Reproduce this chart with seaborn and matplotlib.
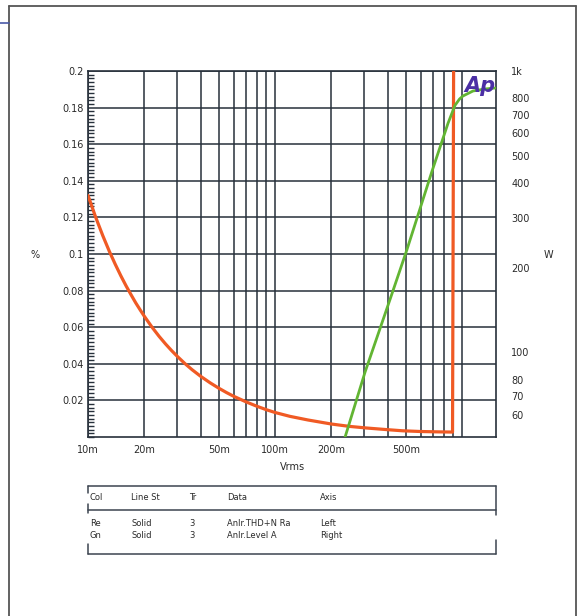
import numpy as np
import pandas as pd
import matplotlib
matplotlib.use("Agg")
import matplotlib.pyplot as plt
import seaborn as sns
from matplotlib.lines import Line2D
from matplotlib.ticker import FixedLocator, FixedFormatter, MultipleLocator, NullFormatter

# ---------------- data ----------------
thd_vrms = [0.01, 0.011, 0.012, 0.013, 0.014, 0.015, 0.016, 0.017, 0.018, 0.019, 0.02,
            0.022, 0.024, 0.026, 0.028, 0.03, 0.033, 0.036, 0.04, 0.045, 0.05,
            0.055, 0.06, 0.07, 0.08, 0.09, 0.1, 0.12, 0.15, 0.2, 0.25, 0.31, 0.4, 0.48,
            0.6, 0.75, 0.89, 0.908]
thd_pct = [0.132, 0.120, 0.110, 0.1015, 0.0943, 0.088, 0.0825, 0.0777, 0.0733, 0.0695, 0.066,
           0.060, 0.055, 0.0508, 0.0472, 0.0441, 0.0401, 0.0368, 0.0332, 0.0296, 0.0267,
           0.0243, 0.0223, 0.0192, 0.0168, 0.0149, 0.0134, 0.0113, 0.0093, 0.0071, 0.0058, 0.0049, 0.0040, 0.0034,
           0.0030, 0.0028, 0.0027, 0.30]

lvl_vrms = [0.236, 0.303, 0.412, 0.508, 0.691, 0.842, 0.9175, 0.97, 1.012, 1.145, 1.327, 1.501]
lvl_watt = [49.5, 85.0, 154, 232, 440, 652, 755, 795, 815, 849, 863, 870]

x_ticks = [0.01, 0.02, 0.05, 0.1, 0.2, 0.5]
x_labels = ["10m", "20m", "50m", "100m", "200m", "500m"]
left_ticks = [0.02, 0.04, 0.06, 0.08, 0.1, 0.12, 0.14, 0.16, 0.18, 0.2]
left_labels = ["0.02", "0.04", "0.06", "0.08", "0.1", "0.12", "0.14", "0.16", "0.18", "0.2"]
right_ticks = [60, 70, 80, 100, 200, 300, 400, 500, 600, 700, 800, 1000]
right_labels = ["60", "70", "80", "100", "200", "300", "400", "500", "600", "700", "800", "1k"]

table_header = ["Col", "Line St", "Tr", "Data", "Axis"]
table_rows = [["Re", "Solid", "3", "Anlr.THD+N Ra", "Left"],
              ["Gn", "Solid", "3", "Anlr.Level A", "Right"]]

# ---------------- style ----------------
sns.set_style("white")
plt.rcParams["font.family"] = ["DejaVu Sans"]

W, H = 577, 616
fig = plt.figure(figsize=(W / 100, H / 100), dpi=100)
fig.patch.set_facecolor("white")

def fx(px):
    return px / W

def fy(py):
    return 1 - py / H

L, R, T, B = 88, 496, 71, 437
ax = fig.add_axes([fx(L), fy(B), fx(R) - fx(L), fy(T) - fy(B)])
ax.set_facecolor("white")

grid_c = "#27303b"
txt_c = "#2a2a2a"
red_c = "#f05a24"
green_c = "#62b533"

df_thd = pd.DataFrame({"Vrms": thd_vrms, "THD": thd_pct})
df_lvl = pd.DataFrame({"Vrms": lvl_vrms, "W": lvl_watt})

ax.set_xscale("log")
ax.set_xlim(0.01, 1.52)
ax.set_ylim(0, 0.2)

# grid: every 1..9 multiple on x, every 0.02 on y
grid_x = [m * d for d in (0.01, 0.1, 1.0) for m in range(1, 10) if 0.01 <= m * d <= 1.52]
lbls = []
for g in grid_x:
    lab = ""
    for t, s in zip(x_ticks, x_labels):
        if abs(g - t) < 1e-9:
            lab = s
    lbls.append(lab)
ax.xaxis.set_major_locator(FixedLocator(grid_x))
ax.xaxis.set_major_formatter(FixedFormatter(lbls))
ax.xaxis.set_minor_formatter(NullFormatter())
ax.xaxis.set_minor_locator(FixedLocator([]))

ax.yaxis.set_major_locator(FixedLocator(left_ticks))
ax.yaxis.set_major_formatter(FixedFormatter(left_labels))
ax.yaxis.set_minor_locator(MultipleLocator(0.002))

ax.grid(True, which="major", color=grid_c, lw=1.1)
ax.tick_params(axis="x", which="major", length=0, pad=6, labelsize=7, labelcolor=txt_c)
ax.tick_params(axis="y", which="major", length=0, pad=3, labelsize=7, labelcolor=txt_c)
ax.tick_params(axis="y", which="minor", direction="in", length=4, width=1.0, color=grid_c, left=True)
for s in ax.spines.values():
    s.set_color(grid_c)
    s.set_linewidth(1.2)

sns.lineplot(data=df_thd, x="Vrms", y="THD", ax=ax, color=red_c, lw=2.3,
             estimator=None, sort=False, legend=False, zorder=3)
ax.set_xlabel("")
ax.set_ylabel("")

ax2 = ax.twinx()
ax2.set_yscale("log")
ax2.set_ylim(50, 1000)
sns.lineplot(data=df_lvl, x="Vrms", y="W", ax=ax2, color=green_c, lw=2.0,
             estimator=None, sort=False, legend=False, zorder=4)
ax2.set_xlim(0.01, 1.52)
ax2.set_ylabel("")
ax2.set_xlabel("")
ax2.yaxis.set_major_locator(FixedLocator(right_ticks))
ax2.yaxis.set_major_formatter(FixedFormatter(right_labels))
ax2.yaxis.set_minor_locator(FixedLocator([]))
ax2.yaxis.set_minor_formatter(NullFormatter())
ax2.tick_params(axis="y", which="major", length=0, pad=11, labelsize=7, labelcolor=txt_c)
for s in ax2.spines.values():
    s.set_visible(False)
ax2.grid(False)

# axis titles
fig.text(fx(35), fy(255), "%", fontsize=7, color=txt_c, ha="center", va="center")
fig.text(fx(548), fy(255), "W", fontsize=7, color=txt_c, ha="center", va="center")
fig.text(fx(292), fy(467), "Vrms", fontsize=7, color=txt_c, ha="center", va="center")

# Ap logo
fig.text(fx(480), fy(86), "Ap", fontsize=15, fontweight="bold", fontstyle="italic",
         color="#4b2fa5", ha="center", va="center", zorder=10)

# outer frame
frame_c = "#555555"
fig.add_artist(Line2D([fx(9), fx(576)], [fy(6), fy(6)], color=frame_c, lw=1.3))
fig.add_artist(Line2D([fx(9), fx(9)], [fy(6), fy(616)], color=frame_c, lw=1.3))
fig.add_artist(Line2D([fx(576), fx(576)], [fy(6), fy(616)], color=frame_c, lw=1.3))
fig.add_artist(Line2D([fx(0), fx(9)], [fy(23), fy(23)], color="#4a5aa8", lw=1.2))

# legend table
tc = "#3c4450"
def seg(x0, y0, x1, y1):
    fig.add_artist(Line2D([fx(x0), fx(x1)], [fy(y0), fy(y1)], color=tc, lw=1.1))

seg(88, 486, 496, 486)
seg(88, 486, 88, 493)
seg(496, 486, 496, 515)
seg(88, 510, 496, 510)
seg(88, 504, 88, 513)
seg(88, 554, 496, 554)
seg(88, 544, 88, 554)
seg(496, 540, 496, 554)

col_x = [90, 131, 189, 227, 320]
for cx, s in zip(col_x, table_header):
    fig.text(fx(cx), fy(497), s, fontsize=6, color=txt_c, ha="left", va="center")
for ry, row in zip([523, 535], table_rows):
    for cx, s in zip(col_x, row):
        fig.text(fx(cx), fy(ry), s, fontsize=6, color=txt_c, ha="left", va="center")

fig.savefig("out.png", dpi=100, facecolor="white")
